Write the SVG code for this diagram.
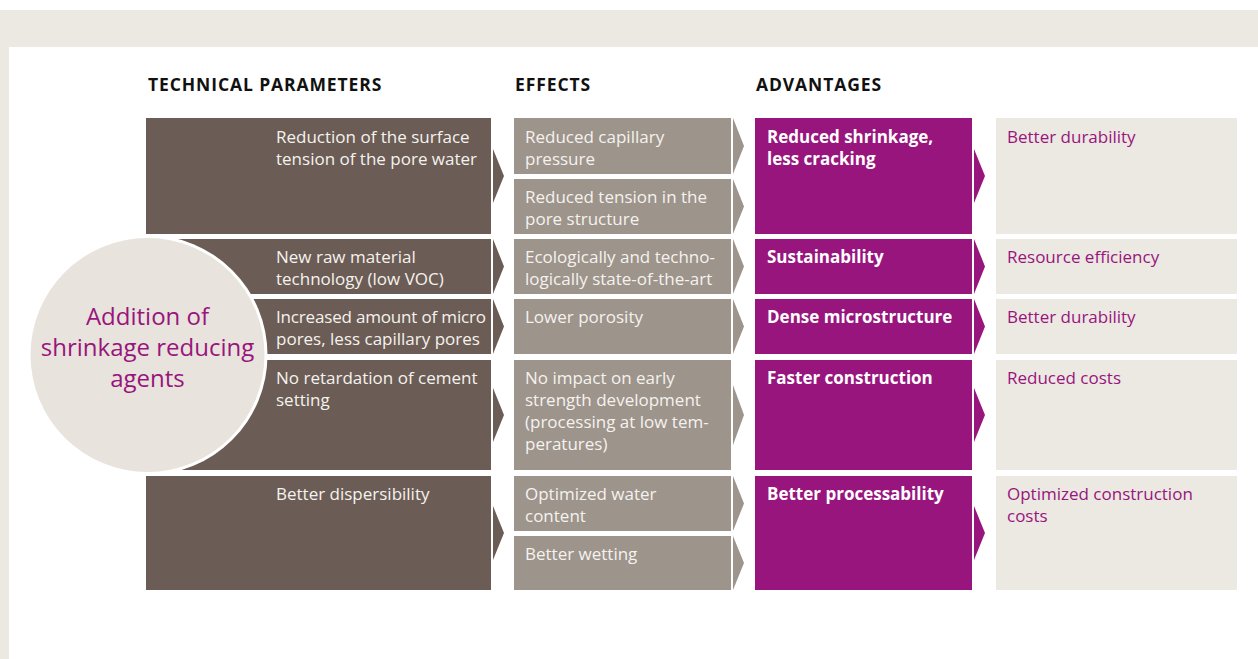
<svg xmlns="http://www.w3.org/2000/svg" width="1258" height="659" viewBox="0 0 1258 659">
<style>
.hdr{font-family:"Open Sans","Liberation Sans",sans-serif;font-weight:700;font-size:17.5px;letter-spacing:0.9px;fill:#111}
.t{font-family:"Open Sans","Liberation Sans",sans-serif;font-size:17px;fill:#f5f2ee}
.tb{font-family:"Open Sans","Liberation Sans",sans-serif;font-size:17px;font-weight:700;fill:#ffffff}
.tp{font-family:"Open Sans","Liberation Sans",sans-serif;font-size:17px;fill:#98157d}
.ct{font-family:"Open Sans","Liberation Sans",sans-serif;font-size:24px;fill:#98157d}
.dark{fill:#6b5d55}
.grey{fill:#9d948c}
.purp{fill:#98157d}
.beige{fill:#ece8e2}
</style>
<rect x="0" y="0" width="1258" height="659" fill="#ffffff"/>
<rect x="0" y="10" width="1258" height="37" fill="#ece8e2"/>
<rect x="0" y="47" width="9" height="612" fill="#ece8e2"/>

<g id="headers">
<text class="hdr" x="148" y="91">TECHNICAL PARAMETERS</text>
<text class="hdr" x="515" y="91">EFFECTS</text>
<text class="hdr" x="756" y="91">ADVANTAGES</text>
</g>

<g id="connectors">
<polygon class="dark" points="493,149 504,176 493,203"/>
<polygon class="dark" points="493,239 504,266.5 493,294"/>
<polygon class="dark" points="493,299 504,326.5 493,354"/>
<polygon class="dark" points="493,388 504,415 493,442"/>
<polygon class="dark" points="493,506 504,533 493,560"/>

<polygon class="grey" points="733,118 744,146 733,174"/>
<polygon class="grey" points="733,179 744,206.5 733,234"/>
<polygon class="grey" points="733,239 744,266.5 733,294"/>
<polygon class="grey" points="733,299 744,326.5 733,354"/>
<polygon class="grey" points="733,385 744,415 733,445"/>
<polygon class="grey" points="733,476 744,503.5 733,531"/>
<polygon class="grey" points="733,536 744,563 733,590"/>

<polygon class="purp" points="974,149 985,176 974,203"/>
<polygon class="purp" points="974,239 985,266.5 974,294"/>
<polygon class="purp" points="974,299 985,326.5 974,354"/>
<polygon class="purp" points="974,388 985,415 974,442"/>
<polygon class="purp" points="974,506 985,533 974,560"/>
</g>

<g id="param1"><rect class="dark" x="146" y="118" width="345" height="116"/>
<text class="t" x="276" y="143">Reduction of the surface</text>
<text class="t" x="276" y="165">tension of the pore water</text></g>
<g id="param2"><rect class="dark" x="146" y="239" width="345" height="55"/>
<text class="t" x="276" y="263">New raw material</text>
<text class="t" x="276" y="285">technology (low VOC)</text></g>
<g id="param3"><rect class="dark" x="146" y="299" width="345" height="55"/>
<text class="t" x="276" y="323" textLength="210" lengthAdjust="spacing">Increased amount of micro</text>
<text class="t" x="276" y="345">pores, less capillary pores</text></g>
<g id="param4"><rect class="dark" x="146" y="360" width="345" height="110"/>
<text class="t" x="276" y="384">No retardation of cement</text>
<text class="t" x="276" y="406">setting</text></g>
<g id="param5"><rect class="dark" x="146" y="476" width="345" height="114"/>
<text class="t" x="276" y="500">Better dispersibility</text></g>

<g id="circle">
<circle cx="147.5" cy="355" r="120" fill="#ffffff"/>
<circle cx="147.5" cy="355" r="117" fill="#e8e3dc"/>
<text class="ct" x="147.5" y="325" text-anchor="middle">Addition of</text>
<text class="ct" x="147.5" y="356" text-anchor="middle">shrinkage reducing</text>
<text class="ct" x="147.5" y="387" text-anchor="middle">agents</text>
</g>

<g id="effect1"><rect class="grey" x="514" y="118" width="217" height="56"/>
<text class="t" x="525" y="143">Reduced capillary</text>
<text class="t" x="525" y="165">pressure</text></g>
<g id="effect2"><rect class="grey" x="514" y="179" width="217" height="55"/>
<text class="t" x="525" y="203">Reduced tension in the</text>
<text class="t" x="525" y="225">pore structure</text></g>
<g id="effect3"><rect class="grey" x="514" y="239" width="217" height="55"/>
<text class="t" x="525" y="263">Ecologically and techno-</text>
<text class="t" x="525" y="285">logically state-of-the-art</text></g>
<g id="effect4"><rect class="grey" x="514" y="299" width="217" height="55"/>
<text class="t" x="525" y="323">Lower porosity</text></g>
<g id="effect5"><rect class="grey" x="514" y="360" width="217" height="110"/>
<text class="t" x="525" y="384">No impact on early</text>
<text class="t" x="525" y="406">strength development</text>
<text class="t" x="525" y="428">(processing at low tem-</text>
<text class="t" x="525" y="450">peratures)</text></g>
<g id="effect6"><rect class="grey" x="514" y="476" width="217" height="55"/>
<text class="t" x="525" y="500">Optimized water</text>
<text class="t" x="525" y="522">content</text></g>
<g id="effect7"><rect class="grey" x="514" y="536" width="217" height="54"/>
<text class="t" x="525" y="560">Better wetting</text></g>

<g id="adv1"><rect class="purp" x="755" y="118" width="217" height="116"/>
<text class="tb" x="767" y="143">Reduced shrinkage,</text>
<text class="tb" x="767" y="165">less cracking</text></g>
<g id="adv2"><rect class="purp" x="755" y="239" width="217" height="55"/>
<text class="tb" x="767" y="263">Sustainability</text></g>
<g id="adv3"><rect class="purp" x="755" y="299" width="217" height="55"/>
<text class="tb" x="767" y="323">Dense microstructure</text></g>
<g id="adv4"><rect class="purp" x="755" y="360" width="217" height="110"/>
<text class="tb" x="767" y="384">Faster construction</text></g>
<g id="adv5"><rect class="purp" x="755" y="476" width="217" height="114"/>
<text class="tb" x="767" y="500">Better processability</text></g>

<g id="benefit1"><rect class="beige" x="996" y="118" width="241" height="116"/>
<text class="tp" x="1007" y="143">Better durability</text></g>
<g id="benefit2"><rect class="beige" x="996" y="239" width="241" height="55"/>
<text class="tp" x="1007" y="263">Resource efficiency</text></g>
<g id="benefit3"><rect class="beige" x="996" y="299" width="241" height="55"/>
<text class="tp" x="1007" y="323">Better durability</text></g>
<g id="benefit4"><rect class="beige" x="996" y="360" width="241" height="110"/>
<text class="tp" x="1007" y="384">Reduced costs</text></g>
<g id="benefit5"><rect class="beige" x="996" y="476" width="241" height="114"/>
<text class="tp" x="1007" y="500">Optimized construction</text>
<text class="tp" x="1007" y="522">costs</text></g>
</svg>
